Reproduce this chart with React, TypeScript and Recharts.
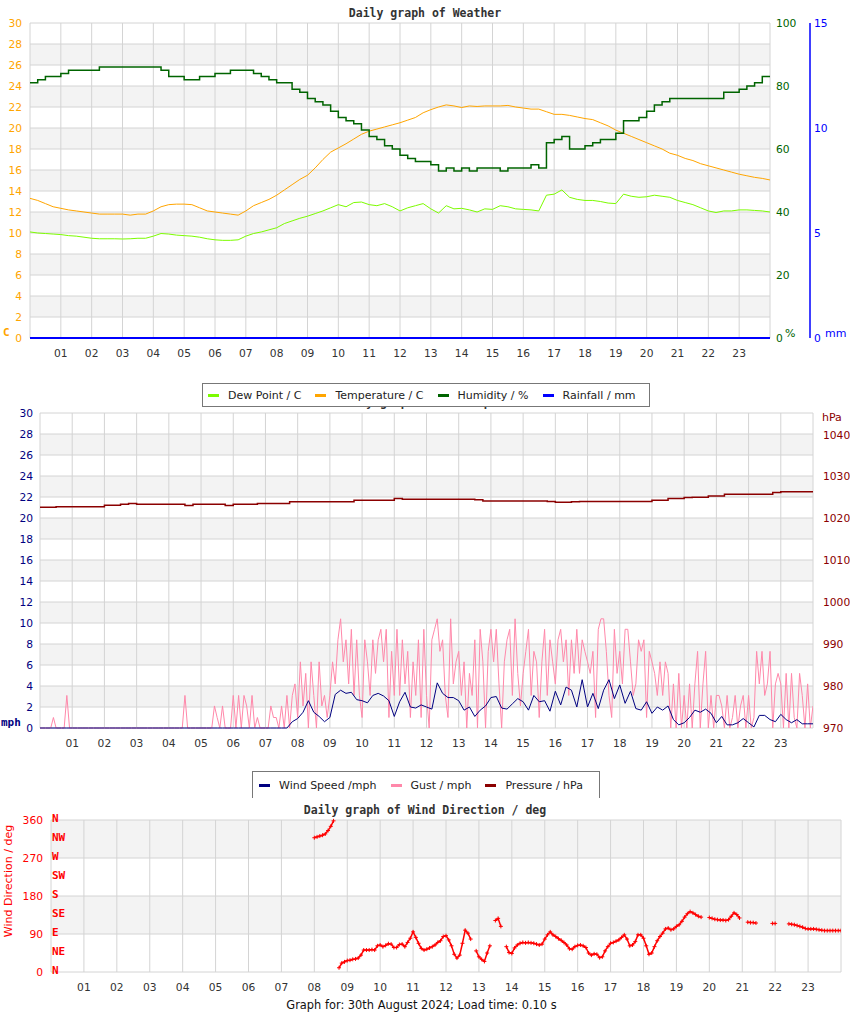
import React from "react";
import { LineChart, Line, XAxis, YAxis, CartesianGrid, ReferenceLine } from "recharts";

const FONT = "'DejaVu Sans', sans-serif";
const MONO = "'DejaVu Sans Mono', monospace";

// hour ticks shared by all three panels
const hourTicks = [1, 2, 3, 4, 5, 6, 7, 8, 9, 10, 11, 12, 13, 14, 15, 16, 17, 18, 19, 20, 21, 22, 23];
const hourLabels = ["01", "02", "03", "04", "05", "06", "07", "08", "09", "10", "11", "12", "13", "14", "15", "16", "17", "18", "19", "20", "21", "22", "23"];

const tempTicks = [0, 2, 4, 6, 8, 10, 12, 14, 16, 18, 20, 22, 24, 26, 28, 30];
const humTicks = [0, 20, 40, 60, 80, 100];
const rainTicks = [0, 5, 10, 15];
const mphTicks = [0, 2, 4, 6, 8, 10, 12, 14, 16, 18, 20, 22, 24, 26, 28, 30];
const hpaTicks = [970, 980, 990, 1000, 1010, 1020, 1030, 1040];
const dirTicks = [0, 90, 180, 270, 360];
const compassTicks = [0, 45, 90, 135, 180, 225, 270, 315, 360];
const compassLabels = ["N", "NE", "E", "SE", "S", "SW", "W", "NW", "N"];

// 15 minute readings, 00:00 .. 24:00
const temperature = [
  13.3, 13.1, 12.8, 12.5, 12.35, 12.2, 12.1, 12.0, 11.9, 11.8, 11.8, 11.8,
  11.8, 11.7, 11.8, 11.8, 12.1, 12.5, 12.7, 12.75, 12.75, 12.7, 12.4, 12.1,
  12.0, 11.9, 11.8, 11.7, 12.1, 12.6, 12.9, 13.2, 13.6, 14.1, 14.6, 15.1,
  15.5, 16.2, 17.0, 17.7, 18.1, 18.5, 18.95, 19.4, 19.7, 19.9, 20.1, 20.3,
  20.5, 20.75, 21.0, 21.45, 21.75, 22.0, 22.2, 22.1, 21.95, 22.1, 22.05, 22.1,
  22.1, 22.1, 22.15, 22.0, 21.9, 21.8, 21.8, 21.55, 21.3, 21.3, 21.2, 21.05,
  20.9, 20.8, 20.5, 20.2, 19.8, 19.5, 19.2, 18.9, 18.6, 18.3, 18.0, 17.6,
  17.4, 17.1, 16.9, 16.6, 16.4, 16.2, 16.0, 15.8, 15.6, 15.45, 15.3, 15.2,
  15.05,
];
const dewPoint = [
  10.1, 10.0, 9.95, 9.9, 9.85, 9.75, 9.7, 9.6, 9.5, 9.45, 9.45, 9.45,
  9.43, 9.45, 9.5, 9.5, 9.7, 9.95, 9.9, 9.8, 9.75, 9.7, 9.6, 9.45,
  9.35, 9.3, 9.3, 9.35, 9.7, 9.95, 10.1, 10.3, 10.5, 10.9, 11.15, 11.4,
  11.6, 11.85, 12.1, 12.4, 12.7, 12.5, 12.9, 12.95, 12.7, 12.6, 12.8, 12.5,
  12.1, 12.4, 12.6, 12.8, 12.3, 11.9, 12.6, 12.3, 12.35, 12.2, 12.0, 12.3,
  12.25, 12.6, 12.5, 12.3, 12.25, 12.2, 12.1, 13.6, 13.7, 14.1, 13.4, 13.2,
  13.1, 13.1, 13.0, 12.85, 12.8, 13.7, 13.5, 13.4, 13.45, 13.6, 13.5, 13.4,
  13.1, 12.9, 12.7, 12.4, 12.1, 11.95, 12.1, 12.1, 12.2, 12.2, 12.15, 12.1,
  12.0,
];
const humidity = [
  81, 82, 83, 83, 84, 85, 85, 85, 85, 86, 86, 86,
  86, 86, 86, 86, 86, 85, 83, 83, 82, 82, 83, 83,
  84, 84, 85, 85, 85, 84, 83, 82, 81, 81, 79, 78,
  76, 75, 74, 72, 70, 69, 68, 66, 64, 63, 61, 60,
  58, 57, 56, 56, 55, 53, 54, 53, 54, 53, 54, 54,
  54, 53, 54, 54, 54, 55, 54, 62, 63, 64, 60, 60,
  61, 62, 63, 63, 65, 69, 69, 70, 72, 74, 75, 76,
  76, 76, 76, 76, 76, 76, 78, 78, 79, 80, 81, 83,
  83,
];
const pressure = [
  1022.7, 1022.7, 1022.8, 1022.8, 1022.8, 1022.8, 1022.8, 1022.8, 1023.2, 1023.2, 1023.4, 1023.6,
  1023.4, 1023.4, 1023.4, 1023.4, 1023.4, 1023.4, 1023.1, 1023.4, 1023.4, 1023.4, 1023.4, 1023.1,
  1023.4, 1023.4, 1023.4, 1023.6, 1023.6, 1023.6, 1023.6, 1024.0, 1024.0, 1024.0, 1024.0, 1024.0,
  1024.0, 1024.0, 1024.0, 1024.4, 1024.4, 1024.4, 1024.4, 1024.4, 1024.8, 1024.6, 1024.6, 1024.6,
  1024.6, 1024.6, 1024.6, 1024.6, 1024.6, 1024.6, 1024.5, 1024.2, 1024.2, 1024.2, 1024.2, 1024.2,
  1024.2, 1024.2, 1024.2, 1024.1, 1023.9, 1023.9, 1024.0, 1024.1, 1024.1, 1024.1, 1024.1, 1024.1,
  1024.1, 1024.1, 1024.1, 1024.1, 1024.35, 1024.4, 1024.8, 1024.8, 1025.0, 1025.1, 1025.1, 1025.4,
  1025.4, 1025.8, 1025.8, 1025.8, 1025.8, 1025.8, 1025.8, 1026.2, 1026.4, 1026.4, 1026.4, 1026.4,
  1026.4,
];
// hourly rainfall (none)
const rainfall = [0, 0, 0, 0, 0, 0, 0, 0, 0, 0, 0, 0, 0, 0, 0, 0, 0, 0, 0, 0, 0, 0, 0, 0, 0];

// 10 minute wind speed
const windSpeed = [
  0, 0, 0, 0, 0, 0, 0, 0, 0, 0, 0, 0,
  0, 0, 0, 0, 0, 0, 0, 0, 0, 0, 0, 0,
  0, 0, 0, 0, 0, 0, 0, 0, 0, 0, 0, 0,
  0, 0, 0, 0, 0, 0, 0, 0, 0, 0, 0, 0.6,
  0.9, 1.5, 2.6, 1.5, 1.1, 0.6, 1.0, 3.2, 3.6, 3.3, 3.4, 2.7,
  2.6, 2.4, 3.1, 3.3, 3.05, 2.6, 1.1, 2.5, 3.4, 2.0, 1.9, 2.2,
  2.0, 1.8, 4.3, 3.3, 2.9, 2.9, 2.6, 1.7, 2.0, 1.1, 1.7, 2.1,
  2.9, 3.0, 1.9, 1.8, 2.3, 2.8, 2.5, 1.7, 3.1, 2.5, 2.6, 1.6,
  3.5, 2.2, 3.9, 3.6, 2.0, 4.6, 2.0, 3.3, 1.85, 3.6, 4.6, 2.8,
  4.1, 2.35, 3.5, 1.85, 1.7, 2.5, 1.4, 2.0, 1.7, 2.1, 0.8, 0.3,
  0.5, 1.0, 1.7, 1.5, 1.8, 1.4, 0.5, 1.1, 0.3, 0.3, 0.5, 0.9,
  0.5, 0.1, 1.2, 1.2, 0.8, 0.6, 1.3, 0.8, 0.5, 0.8, 0.4, 0.4,
  0.4,
];

// 5 minute gusts
const gust = [
  0, 0, 0, 0, 0, 1.0, 0, 0, 0, 0, 3.1, 0,
  0, 0, 0, 0, 0, 0, 0, 0, 0, 0, 0, 0,
  0, 0, 0, 0, 0, 0, 0, 0, 0, 0, 0, 0,
  0, 0, 0, 0, 0, 0, 0, 0, 0, 0, 0, 0,
  0, 0, 0, 0, 0, 0, 3.1, 0, 0, 0, 0, 0,
  0, 0, 0, 0, 0, 2.1, 1.0, 0, 2.1, 0, 0, 0,
  3.1, 0, 3.1, 0, 3.1, 2.1, 0, 3.1, 0, 1.0, 0, 0,
  0, 0, 2.1, 1.0, 1.0, 0, 2.1, 0, 3.1, 0, 3.1, 4.2,
  1.0, 6.3, 2.1, 5.2, 0, 6.3, 3.1, 0, 6.3, 2.1, 3.1, 1.0,
  3.1, 6.3, 4.2, 8.4, 10.4, 6.3, 8.4, 4.2, 9.4, 3.1, 8.4, 3.1,
  1.0, 8.4, 6.3, 3.1, 8.4, 5.2, 8.4, 9.4, 6.3, 9.4, 1.0, 7.3,
  3.1, 9.4, 3.1, 8.4, 4.2, 7.3, 1.0, 6.3, 3.1, 8.4, 1.0, 9.4,
  3.1, 0, 8.4, 9.4, 10.4, 7.3, 8.4, 3.1, 1.0, 10.4, 4.2, 6.3,
  7.3, 3.1, 6.3, 0, 5.2, 3.1, 8.4, 0, 9.4, 6.3, 0, 7.3,
  9.4, 6.3, 9.4, 4.2, 0, 6.3, 8.4, 9.4, 3.1, 10.4, 5.2, 2.1,
  5.2, 7.3, 9.4, 3.1, 7.3, 6.3, 1.0, 6.3, 9.4, 3.1, 8.4, 6.3,
  4.2, 8.4, 9.4, 6.3, 8.4, 3.1, 8.4, 5.2, 9.4, 5.2, 8.4, 7.3,
  6.3, 5.2, 7.3, 1.0, 9.4, 10.4, 10.4, 7.3, 3.1, 1.0, 9.4, 5.2,
  7.3, 4.2, 9.4, 9.4, 6.3, 3.1, 4.2, 8.4, 7.3, 8.4, 1.0, 7.3,
  6.3, 5.2, 3.1, 6.3, 3.1, 6.3, 5.2, 0, 4.2, 0, 5.2, 0,
  3.1, 0, 4.2, 0, 4.2, 7.3, 0, 4.2, 7.3, 0, 3.1, 0,
  3.1, 3.1, 2.1, 0, 3.1, 0, 1.0, 3.1, 0, 2.1, 3.1, 0,
  3.1, 0, 1.0, 7.3, 4.2, 7.3, 3.1, 4.2, 7.3, 0, 4.2, 5.2,
  4.2, 0, 5.2, 0, 5.2, 1.0, 0, 5.2, 3.1, 0, 4.2, 0,
  2.1,
];

// 5 minute wind direction from 08:00 (null = no reading / wrap)
const windDir = [
  318, 320, 322, 324, 327, 335, 345, 358, null, 10, 21, 24,
  27, 28, 30, 31, 33, 40, 52, 52, 52, 53, 52, 62,
  64, 60, 63, 67, 66, 58, 58, 65, 66, 60, 70, 80,
  95, 82, 68, 56, 52, 54, 57, 60, 64, 70, 74, 84,
  86, 76, 62, 42, 33, 40, 68, 99, 92, 78, null, 50,
  36, 30, 25, 45, 62, null, 122, 127, 108, null, 60, 46,
  44, 57, 64, 68, 70, 69, 70, 69, 68, 66, 64, 66,
  78, 88, 95, 88, 84, 79, 75, 70, 64, 55, 54, 60,
  63, 64, 62, 58, 45, 40, 43, 42, 34, 36, 50, 60,
  68, 70, 73, 76, 82, 88, 78, 62, 64, 72, 88, 88,
  80, 62, 42, 45, 60, 74, 84, 92, 102, 104, 100, 102,
  108, 112, 120, 130, 138, 143, 140, 136, 132, 130, null, null,
  129, 127, 125, 124, 123, 123, 122, 124, 132, 140, 136, 128,
  null, null, 118, 117, 117, 116, null, null, null, null, null, 115,
  115, null, null, null, null, 114, 113, 112, 110, 108, 106, 103,
  102, 102, 102, 101, 100, 99, 98, 98, 98, 98, 98, 98,
  98,
];

const seriesNames1 = ["Dew Point / C", "Temperature / C", "Humidity / %", "Rainfall / mm"];
const seriesColors1 = ["#7cfc00", "#ffa500", "#006400", "#0000ff"];
const seriesNames2 = ["Wind Speed /mph", "Gust / mph", "Pressure / hPa"];
const seriesColors2 = ["#000080", "#ff88aa", "#8b0000"];

const every = (arr: (number | null)[], step: number, start = 0) =>
  arr.map((v, i) => ({ t: start + i / step, v }));

const tempData = every(temperature, 4);
const dewData = every(dewPoint, 4);
const humData = every(humidity, 4);
const presData = every(pressure, 4);
const rainData = every(rainfall, 1);
const windData = every(windSpeed, 6);
const gustData = every(gust, 12);
const dirData = every(windDir, 12, 8);

const fmtHour = (v: number) => hourLabels[hourTicks.indexOf(v)] ?? "";

const tickX = { fill: "#333", fontSize: 10.7, fontFamily: FONT };

const Cross = (p: any) => {
  const { cx, cy, index } = p;
  if (cx == null || cy == null) return <g key={index} />;
  return (
    <path
      key={index}
      d={`M${cx - 2},${cy}H${cx + 2}M${cx},${cy - 2}V${cy + 2}`}
      stroke="#ff0000"
      strokeWidth={1}
    />
  );
};

const Legend = ({ names, colors, style }: { names: string[]; colors: string[]; style: React.CSSProperties }) => (
  <div
    style={{
      position: "absolute",
      boxSizing: "border-box",
      background: "#fff",
      display: "flex",
      alignItems: "center",
      whiteSpace: "nowrap",
      overflow: "hidden",
      fontFamily: FONT,
      fontSize: 11,
      color: "#222",
      ...style,
    }}
  >
    {names.map((n, i) => (
      <div key={n} style={{ display: "flex", alignItems: "center", marginRight: 14, flexShrink: 0 }}>
        <span style={{ width: 11, height: 3, background: colors[i], marginRight: 9, flexShrink: 0 }} />
        <span style={{ whiteSpace: "nowrap" }}>{n}</span>
      </div>
    ))}
  </div>
);

const abs = (left: number, top: number, extra: React.CSSProperties = {}): React.CSSProperties => ({
  position: "absolute",
  left,
  top,
  lineHeight: "14px",
  whiteSpace: "nowrap",
  ...extra,
});

export default function App() {
  return (
    <div style={{ position: "absolute", left: 0, top: 0, width: 850, height: 1017, background: "#fff", fontFamily: FONT }}>
      {/* panel 1 */}
      <div style={{ position: "absolute", left: 0, top: 0 }}>
        <LineChart width={850} height={370} margin={{ top: 23, right: 0, bottom: 2, left: 0 }}>
          <CartesianGrid stroke="#d4d4d4" horizontalFill={["#ffffff", "#f3f3f3"]} />
          <XAxis type="number" dataKey="t" domain={[0, 24]} ticks={hourTicks} interval={0} tickFormatter={fmtHour}
            axisLine={false} tickLine={false} tickSize={6} tickMargin={5} tick={tickX} height={30} allowDataOverflow />
          <YAxis domain={[0, 30]} ticks={tempTicks} interval={0} width={30} axisLine={false} tickLine={false}
            tick={{ fill: "#ffa500", fontSize: 10.7, fontFamily: FONT }} />
          <YAxis yAxisId="hum" orientation="right" domain={[0, 100]} ticks={humTicks} interval={0} width={40}
            axisLine={false} tickLine={false} tickSize={4} tickMargin={2}
            tick={{ fill: "#006400", fontSize: 10.7, fontFamily: FONT }} />
          <YAxis yAxisId="rain" orientation="right" domain={[0, 15]} ticks={rainTicks} interval={0} width={40}
            axisLine={{ stroke: "#0000ff", strokeWidth: 1.5 }} tickLine={false} tickSize={2} tickMargin={2}
            tick={{ fill: "#0000ff", fontSize: 10.7, fontFamily: FONT }} />
          <Line data={dewData} dataKey="v" stroke="#7cfc00" strokeWidth={1} dot={false} isAnimationActive={false} />
          <Line data={tempData} dataKey="v" stroke="#ffa500" strokeWidth={1} dot={false} isAnimationActive={false} />
          <Line data={humData} yAxisId="hum" type="stepAfter" dataKey="v" stroke="#006400" strokeWidth={1.5} dot={false} isAnimationActive={false} />
          <Line data={rainData} yAxisId="rain" dataKey="v" stroke="#0000ff" strokeWidth={2} dot={false} isAnimationActive={false} />
        </LineChart>
      </div>

      {/* panel 2 */}
      <div style={{ position: "absolute", left: 0, top: 400 }}>
        <LineChart width={850} height={360} margin={{ top: 13, right: 0, bottom: 2, left: 0 }}>
          <CartesianGrid stroke="#d4d4d4" horizontalFill={["#ffffff", "#f3f3f3"]} />
          <XAxis type="number" dataKey="t" domain={[0, 24]} ticks={hourTicks} interval={0} tickFormatter={fmtHour}
            axisLine={false} tickLine={false} tickSize={6} tickMargin={5} tick={tickX} height={30} allowDataOverflow />
          <YAxis domain={[0, 30]} ticks={mphTicks} interval={0} width={40} axisLine={false} tickLine={false}
            tickSize={5} tickMargin={2} tick={{ fill: "#000080", fontSize: 10.7, fontFamily: FONT }} />
          <YAxis yAxisId="hpa" orientation="right" domain={[970, 1045.2]} ticks={hpaTicks} interval={0} width={37}
            axisLine={false} tickLine={false} tickSize={6} tickMargin={4} allowDataOverflow
            tick={{ fill: "#8b0000", fontSize: 10.7, fontFamily: FONT }} />
          <Line data={presData} yAxisId="hpa" type="stepAfter" dataKey="v" stroke="#8b0000" strokeWidth={1.5} dot={false} isAnimationActive={false} />
          <Line data={gustData} dataKey="v" stroke="#ff88aa" strokeWidth={1} dot={false} isAnimationActive={false} />
          <Line data={windData} dataKey="v" stroke="#000080" strokeWidth={1} dot={false} isAnimationActive={false} />
        </LineChart>
      </div>

      {/* panel 3 */}
      <div style={{ position: "absolute", left: 0, top: 800 }}>
        <LineChart width={850} height={204} margin={{ top: 20, right: 9, bottom: 2, left: 0 }}>
          <CartesianGrid stroke="#d4d4d4" horizontalFill={["#f3f3f3", "#ffffff"]} />
          <XAxis type="number" dataKey="t" domain={[0, 24]} ticks={hourTicks} interval={0} tickFormatter={fmtHour}
            axisLine={false} tickLine={false} tickSize={6} tickMargin={5} tick={tickX} height={30} allowDataOverflow />
          <YAxis domain={[0, 360]} ticks={dirTicks} interval={0} width={51} axisLine={false} tickLine={false}
            tick={{ fill: "#ff0000", fontSize: 10.7, fontFamily: FONT }} />
          {compassTicks.map((deg, i) => (
            <ReferenceLine key={i} y={deg} stroke="none" ifOverflow="extendDomain"
              label={{ value: compassLabels[i], position: "insideLeft", offset: 1, dy: -2, fill: "#ff0000",
                fontSize: 11, fontFamily: MONO, fontWeight: "bold" }} />
          ))}
          <Line data={dirData} dataKey="v" stroke="#ff0000" strokeWidth={1.5} dot={Cross} isAnimationActive={false} />
        </LineChart>
      </div>

      {/* titles and labels */}
      <div style={abs(0, 6, { width: 850, textAlign: "center", fontFamily: MONO, fontWeight: "bold", fontSize: 11.5, color: "#333" })}>
        Daily graph of Weather
      </div>
      <div style={abs(3, 326, { fontFamily: MONO, fontWeight: "bold", fontSize: 11, color: "#ffa500" })}>C</div>
      <div style={abs(785, 327, { fontSize: 11, color: "#006400" })}>%</div>
      <div style={abs(825, 327, { fontSize: 11, color: "#0000ff" })}>mm</div>

      <div style={abs(0, 395, { width: 850, textAlign: "center", fontFamily: MONO, fontWeight: "bold", fontSize: 11.5, color: "#333" })}>
        Daily graph of Wind Speed
      </div>
      <Legend names={seriesNames1} colors={seriesColors1}
        style={{ left: 202, top: 383, width: 448, height: 24, border: "1px solid #777", paddingLeft: 5 }} />

      <div style={abs(822, 411, { fontSize: 11, color: "#8b0000" })}>hPa</div>
      <div style={abs(1, 716, { fontFamily: MONO, fontWeight: "bold", fontSize: 11, color: "#000080" })}>mph</div>

      <Legend names={seriesNames2} colors={seriesColors2}
        style={{ left: 252, top: 771, width: 348, height: 27, border: "1px solid #777", borderBottom: "none", paddingLeft: 6 }} />

      <div style={abs(0, 803, { width: 850, textAlign: "center", fontFamily: MONO, fontWeight: "bold", fontSize: 11.5, color: "#333" })}>
        Daily graph of Wind Direction / deg
      </div>
      <div style={abs(-52, 874, { width: 122, textAlign: "center", fontSize: 11, color: "#ff0000", transform: "rotate(-90deg)" })}>
        Wind Direction / deg
      </div>
      <div style={abs(0, 998, { width: 843, textAlign: "center", fontSize: 11.4, color: "#111" })}>
        Graph for: 30th August 2024; Load time: 0.10 s
      </div>
    </div>
  );
}
